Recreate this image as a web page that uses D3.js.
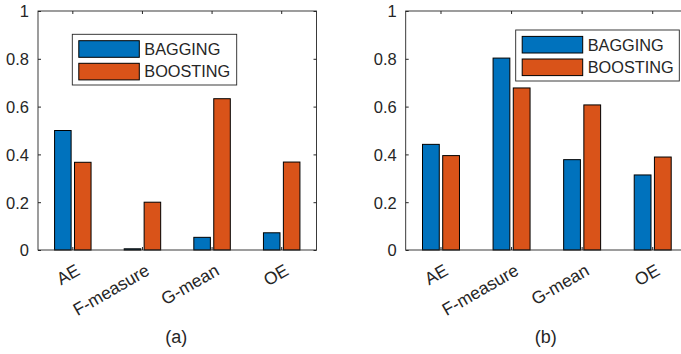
<!DOCTYPE html>
<html>
<head>
<meta charset="utf-8">
<script src="https://cdn.jsdelivr.net/npm/d3@7"></script>
<style>
  body { margin: 0; background: #fff; }
  svg text { font-family: "Liberation Sans", Arial, sans-serif; fill: #262626; }
</style>
</head>
<body>
<svg id="chart" width="681" height="354"></svg>
<script>
// data
const categories = ["AE", "F-measure", "G-mean", "OE"];
const seriesNames = ["BAGGING", "BOOSTING"];
const baggingA = [0.5, 0.005, 0.053, 0.072];
const boostingA = [0.367, 0.2, 0.633, 0.368];
const baggingB = [0.442, 0.803, 0.378, 0.314];
const boostingB = [0.395, 0.678, 0.607, 0.389];
const yTicks = [0, 0.2, 0.4, 0.6, 0.8, 1];
const captions = ["(a)", "(b)"];

const colors = ["#0072BD", "#D95319"];
const axisColor = "#262626";

let svg = d3.select("#chart");

let panels = [
    {series: [baggingA, boostingA], caption: captions[0],
     left: 38, right: 316.5, top: 11, bottom: 250,
     legend: {x: 72.3, y: 34.3, w: 164.4, h: 50.7}},
    {series: [baggingB, boostingB], caption: captions[1],
     left: 405.7, right: 688, top: 11, bottom: 250,
     legend: {x: 515.7, y: 30, w: 163.6, h: 51}}
];

function drawPanel(p) {
    let x = d3.scaleBand().domain(categories).range([p.left, p.right]).padding(0);
    let bw = x.bandwidth();
    let xs = d3.scaleBand().domain(seriesNames)
        .range([bw * 0.238, bw * 0.762])
        .paddingInner(0.17);
    let y = d3.scaleLinear().domain([0, 1]).range([p.bottom, p.top]);

    let g = svg.append("g");

    // bars
    seriesNames.forEach((name, s) => {
        g.append("g").selectAll("rect")
            .data(p.series[s])
            .join("rect")
            .attr("x", (d, i) => x(categories[i]) + xs(name))
            .attr("y", d => y(d))
            .attr("width", xs.bandwidth())
            .attr("height", d => y(0) - y(d))
            .attr("fill", colors[s])
            .attr("stroke", "#000")
            .attr("stroke-width", 1);
    });

    // axes box
    g.append("rect")
        .attr("x", p.left).attr("y", p.top)
        .attr("width", p.right - p.left).attr("height", p.bottom - p.top)
        .attr("fill", "none")
        .attr("stroke", axisColor)
        .attr("stroke-width", 0.9);

    let yAxis = g.append("g")
        .attr("transform", "translate(" + p.left + ",0)")
        .call(d3.axisLeft(y).tickValues(yTicks).tickSizeInner(-3).tickSizeOuter(0)
            .tickPadding(9).tickFormat(d3.format("~g")));
    yAxis.select(".domain").remove();
    yAxis.selectAll("line").attr("stroke", axisColor);
    yAxis.selectAll("text")
        .attr("font-size", 16.5)
        .attr("dy", "0.36em");

    let yAxisR = g.append("g")
        .attr("transform", "translate(" + p.right + ",0)")
        .call(d3.axisRight(y).tickValues(yTicks).tickSizeInner(-3).tickSizeOuter(0).tickFormat(""));
    yAxisR.select(".domain").remove();
    yAxisR.selectAll("line").attr("stroke", axisColor);

    let xTop = g.append("g")
        .attr("transform", "translate(0," + p.top + ")")
        .call(d3.axisTop(x).tickSizeInner(-3).tickSizeOuter(0).tickFormat(""));
    xTop.select(".domain").remove();
    xTop.selectAll("line").attr("stroke", axisColor);

    let xAxis = g.append("g")
        .attr("transform", "translate(0," + p.bottom + ")")
        .call(d3.axisBottom(x).tickSizeInner(-3).tickSizeOuter(0).tickFormat(""));
    xAxis.select(".domain").remove();
    xAxis.selectAll("line").attr("stroke", axisColor);

    // rotated category labels
    g.append("g").selectAll("text")
        .data(categories)
        .join("text")
        .attr("transform", d => "translate(" + (x(d) + bw / 2 + 2) + "," + (p.bottom + 13) + ") rotate(-30)")
        .attr("text-anchor", "end")
        .attr("dy", "0.72em")
        .attr("font-size", 17.5)
        .text(d => d);

    // legend
    let L = p.legend;
    let lg = g.append("g");
    lg.append("rect")
        .attr("x", L.x).attr("y", L.y)
        .attr("width", L.w).attr("height", L.h)
        .attr("fill", "#fff")
        .attr("stroke", axisColor)
        .attr("stroke-width", 0.9);
    seriesNames.forEach((name, s) => {
        let ry = L.y + 6.4 + s * 22.6;
        lg.append("rect")
            .attr("x", L.x + 6.5).attr("y", ry)
            .attr("width", 60.5).attr("height", 16.6)
            .attr("fill", colors[s])
            .attr("stroke", "#000")
            .attr("stroke-width", 1);
        lg.append("text")
            .attr("x", L.x + 72)
            .attr("y", ry + 8.3)
            .attr("dy", "0.36em")
            .attr("font-size", 16.3)
            .text(name);
    });

    // caption
    svg.append("text")
        .attr("x", (p.left + p.right) / 2 - 1)
        .attr("y", 343)
        .attr("text-anchor", "middle")
        .attr("font-size", 18)
        .text(p.caption);
}

panels.forEach(drawPanel);
</script>
</body>
</html>
